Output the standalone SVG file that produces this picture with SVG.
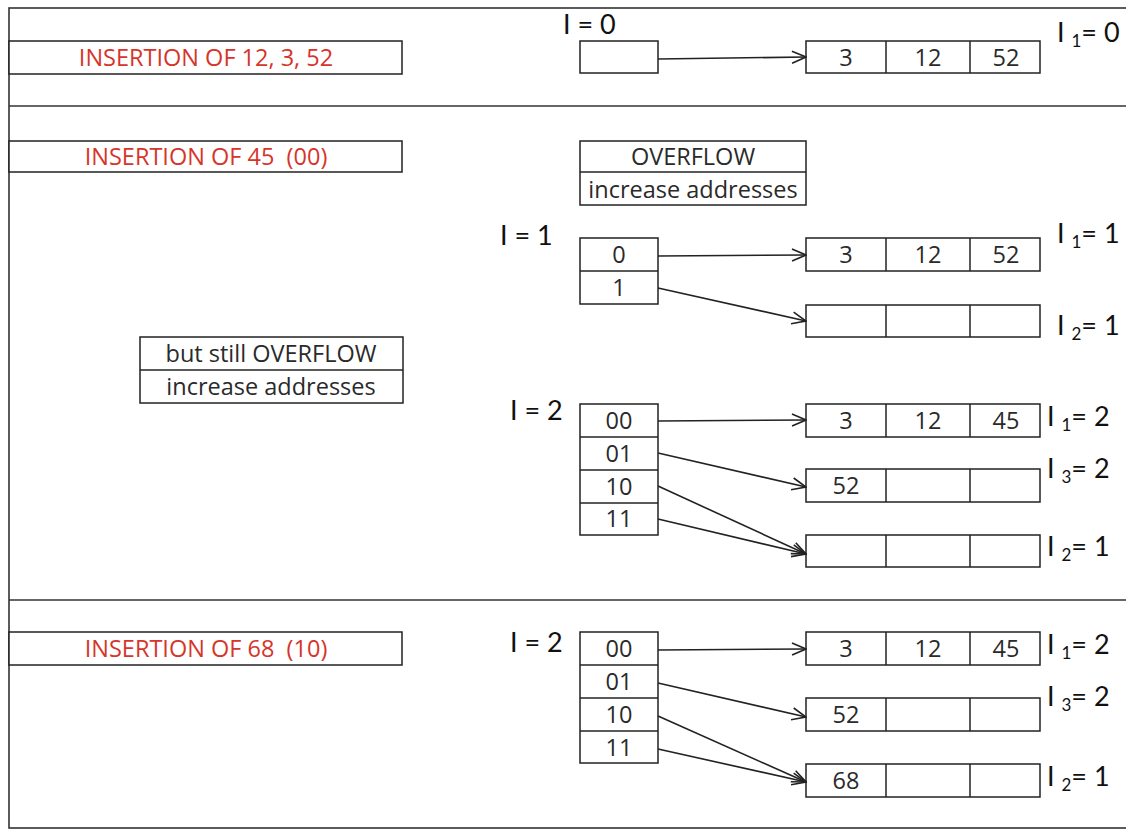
<svg xmlns="http://www.w3.org/2000/svg" width="1126" height="829" viewBox="0 0 1126 829">
<style>
.fr{fill:none;stroke:#333;stroke-width:1.6}
.bx{fill:#fff;stroke:#222;stroke-width:1.5}
.ln{stroke:#222;stroke-width:1.5}
.red{font-family:"Open Sans","Liberation Sans",sans-serif;font-size:23.5px;fill:#d6352b;text-anchor:middle;white-space:pre}
.t{font-family:"Open Sans","Liberation Sans",sans-serif;font-size:23.5px;fill:#2a2a2a;text-anchor:middle}
.lv{font-family:Lato,"Open Sans","Liberation Sans",sans-serif;font-size:27px;fill:#111}
.sub{font-size:17px}
.ar{stroke:#222;stroke-width:1.6;fill:none;marker-end:url(#ah)}
</style>
<defs>
<marker id="ah" markerWidth="16" markerHeight="14" refX="15" refY="7" orient="auto" markerUnits="userSpaceOnUse">
<path d="M1,1 L15,7 L1,13" fill="none" stroke="#222" stroke-width="1.6"/>
</marker>
</defs>
<rect width="1126" height="829" fill="#fff"/>
<g id="frame">
<rect class="fr" x="9" y="8" width="1125" height="820"/>
<line class="fr" x1="9" y1="106" x2="1126" y2="106"/>
<line class="fr" x1="9" y1="600" x2="1126" y2="600"/>
</g>

<g id="label1"><rect class="bx" x="9" y="41" width="393" height="33"/><text class="red" x="206" y="66">INSERTION OF 12, 3, 52</text></g>
<g id="label2"><rect class="bx" x="9" y="141" width="393" height="31"/><text class="red" x="206" y="165" xml:space="preserve">INSERTION OF 45  (00)</text></g>
<g id="label3"><rect class="bx" x="9" y="632" width="393" height="33"/><text class="red" x="206" y="657" xml:space="preserve">INSERTION OF 68  (10)</text></g>

<g id="overflow1"><rect class="bx" x="580" y="141" width="226" height="64"/><line class="ln" x1="580" y1="172" x2="806" y2="172"/>
<text class="t" x="693" y="165">OVERFLOW</text><text class="t" x="693" y="198">increase addresses</text></g>
<g id="overflow2"><rect class="bx" x="140" y="337" width="263" height="66"/><line class="ln" x1="140" y1="370" x2="403" y2="370"/>
<text class="t" x="271" y="362">but still OVERFLOW</text><text class="t" x="271" y="395">increase addresses</text></g>

<!-- Section 1 -->
<g id="dir0"><rect class="bx" x="580" y="41" width="78" height="32"/></g>
<text class="lv" x="563" y="34">I = 0</text>
<g id="b0"><rect class="bx" x="806" y="41" width="234" height="32"/><line class="ln" x1="886" y1="41" x2="886" y2="73"/><line class="ln" x1="970" y1="41" x2="970" y2="73"/>
<text class="t" x="846" y="66">3</text><text class="t" x="928" y="66">12</text><text class="t" x="1006" y="66">52</text></g>
<text class="lv" x="1057" y="42">I <tspan class="sub" dy="5">1</tspan><tspan dy="-5">= 0</tspan></text>

<!-- Section 2a -->
<text class="lv" x="500" y="245">I = 1</text>
<g id="dir1"><rect class="bx" x="580" y="238" width="78" height="66"/><line class="ln" x1="580" y1="271" x2="658" y2="271"/>
<text class="t" x="619" y="263">0</text><text class="t" x="619" y="296">1</text></g>
<g id="b1a"><rect class="bx" x="806" y="238" width="234" height="33"/><line class="ln" x1="886" y1="238" x2="886" y2="271"/><line class="ln" x1="970" y1="238" x2="970" y2="271"/>
<text class="t" x="846" y="263">3</text><text class="t" x="928" y="263">12</text><text class="t" x="1006" y="263">52</text></g>
<g id="b1b"><rect class="bx" x="806" y="305" width="234" height="32"/><line class="ln" x1="886" y1="305" x2="886" y2="337"/><line class="ln" x1="970" y1="305" x2="970" y2="337"/></g>
<text class="lv" x="1057" y="243">I <tspan class="sub" dy="5">1</tspan><tspan dy="-5">= 1</tspan></text>
<text class="lv" x="1057" y="335">I <tspan class="sub" dy="5">2</tspan><tspan dy="-5">= 1</tspan></text>

<!-- Section 2b -->
<text class="lv" x="510" y="420">I = 2</text>
<g id="dir2"><rect class="bx" x="580" y="404" width="78" height="131"/>
<line class="ln" x1="580" y1="437" x2="658" y2="437"/><line class="ln" x1="580" y1="470" x2="658" y2="470"/><line class="ln" x1="580" y1="503" x2="658" y2="503"/>
<text class="t" x="619" y="429">00</text><text class="t" x="619" y="462">01</text><text class="t" x="619" y="495">10</text><text class="t" x="619" y="527">11</text></g>
<g id="b2a"><rect class="bx" x="806" y="404" width="234" height="33"/><line class="ln" x1="886" y1="404" x2="886" y2="437"/><line class="ln" x1="970" y1="404" x2="970" y2="437"/>
<text class="t" x="846" y="429">3</text><text class="t" x="928" y="429">12</text><text class="t" x="1006" y="429">45</text></g>
<g id="b2b"><rect class="bx" x="806" y="469" width="234" height="33"/><line class="ln" x1="886" y1="469" x2="886" y2="502"/><line class="ln" x1="970" y1="469" x2="970" y2="502"/>
<text class="t" x="846" y="494">52</text></g>
<g id="b2c"><rect class="bx" x="806" y="535" width="234" height="32"/><line class="ln" x1="886" y1="535" x2="886" y2="567"/><line class="ln" x1="970" y1="535" x2="970" y2="567"/></g>
<text class="lv" x="1047" y="426">I <tspan class="sub" dy="5">1</tspan><tspan dy="-5">= 2</tspan></text>
<text class="lv" x="1047" y="478">I <tspan class="sub" dy="5">3</tspan><tspan dy="-5">= 2</tspan></text>
<text class="lv" x="1047" y="556">I <tspan class="sub" dy="5">2</tspan><tspan dy="-5">= 1</tspan></text>

<!-- Section 3 -->
<text class="lv" x="510" y="652">I = 2</text>
<g id="dir3"><rect class="bx" x="580" y="632" width="78" height="131"/>
<line class="ln" x1="580" y1="665" x2="658" y2="665"/><line class="ln" x1="580" y1="698" x2="658" y2="698"/><line class="ln" x1="580" y1="731" x2="658" y2="731"/>
<text class="t" x="619" y="657">00</text><text class="t" x="619" y="690">01</text><text class="t" x="619" y="723">10</text><text class="t" x="619" y="756">11</text></g>
<g id="b3a"><rect class="bx" x="806" y="632" width="234" height="33"/><line class="ln" x1="886" y1="632" x2="886" y2="665"/><line class="ln" x1="970" y1="632" x2="970" y2="665"/>
<text class="t" x="846" y="657">3</text><text class="t" x="928" y="657">12</text><text class="t" x="1006" y="657">45</text></g>
<g id="b3b"><rect class="bx" x="806" y="698" width="234" height="33"/><line class="ln" x1="886" y1="698" x2="886" y2="731"/><line class="ln" x1="970" y1="698" x2="970" y2="731"/>
<text class="t" x="846" y="723">52</text></g>
<g id="b3c"><rect class="bx" x="806" y="764" width="234" height="33"/><line class="ln" x1="886" y1="764" x2="886" y2="797"/><line class="ln" x1="970" y1="764" x2="970" y2="797"/>
<text class="t" x="846" y="789">68</text></g>
<text class="lv" x="1047" y="654">I <tspan class="sub" dy="5">1</tspan><tspan dy="-5">= 2</tspan></text>
<text class="lv" x="1047" y="706">I <tspan class="sub" dy="5">3</tspan><tspan dy="-5">= 2</tspan></text>
<text class="lv" x="1047" y="786">I <tspan class="sub" dy="5">2</tspan><tspan dy="-5">= 1</tspan></text>

<g id="connectors">
<line class="ar" x1="658" y1="59" x2="806" y2="57"/>
<line class="ar" x1="658" y1="256" x2="806" y2="255"/>
<line class="ar" x1="658" y1="288" x2="806" y2="321"/>
<line class="ar" x1="658" y1="421" x2="806" y2="420"/>
<line class="ar" x1="658" y1="453" x2="806" y2="487"/>
<line class="ar" x1="658" y1="486" x2="806" y2="554"/>
<line class="ar" x1="658" y1="519" x2="806" y2="554"/>
<line class="ar" x1="658" y1="650" x2="806" y2="649"/>
<line class="ar" x1="658" y1="683" x2="806" y2="717"/>
<line class="ar" x1="658" y1="716" x2="806" y2="782"/>
<line class="ar" x1="658" y1="749" x2="806" y2="782"/>
</g>
</svg>
